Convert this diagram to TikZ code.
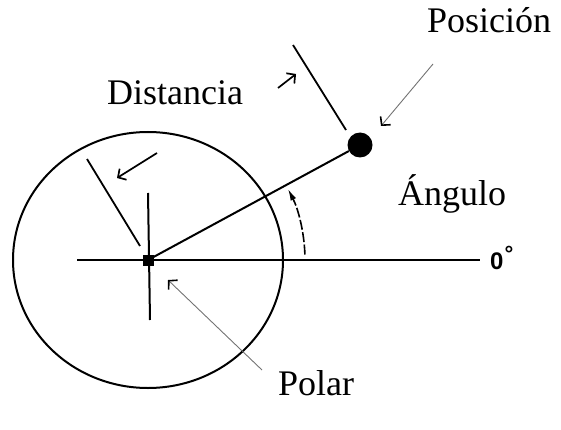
\documentclass[tikz,border=0pt]{standalone}
\usepackage{fontspec}
\setmainfont{Liberation Serif}
\setsansfont{Liberation Sans}
\usetikzlibrary{arrows.meta}

\begin{document}
\begin{tikzpicture}[
x=1pt,y=-1pt,
ln/.style={line width=2pt},
ext/.style={line width=1.8pt},
lbl/.style={font=\fontsize{36}{40}\selectfont,inner sep=0pt,anchor=base west},
tck/.style={line width=1.7pt,-{Straight Barb[length=6pt,width=13pt]}},
ptr/.style={black!55,line width=0.9pt,
  -{Straight Barb[length=6pt,width=13pt,black,line width=1.6pt]}},
arcarr/.style={line width=1.6pt,dash pattern=on 10pt off 2.5pt,
  -{Latex[length=12pt,width=6pt]}}
]
\useasboundingbox (0,0) rectangle (561,430);
\draw[ln] (148,260) ellipse [x radius=135,y radius=128];

\node[fill,minimum size=11pt,inner sep=0pt] (pole) at (148,260) {};
\node[circle,fill,minimum size=25pt,inner sep=0pt] (pos) at (360,145) {};
\coordinate (west) at (77,260);
\coordinate (zero) at (480,260);
\coordinate (up)   at (148,193);
\coordinate (down) at (150,320);

\draw[ln] (west) -- (zero);
\draw[ln] (up) -- (down);
\draw[ln] (pole.center) -- (pos);

\coordinate (e1) at (87,159);
\coordinate (e2) at (140,246);
\coordinate (e3) at (293,45);
\coordinate (e4) at (346,130);
\draw[ext] (e1) -- (e2);
\draw[ext] (e3) -- (e4);

\coordinate (d1) at (157,153);
\coordinate (d2) at (117,178);
\coordinate (d3) at (278,88);
\coordinate (d4) at (296,74);
\draw[tck] (d1) -- (d2);
\draw[tck] (d3) -- (d4);

\node[lbl] (dist) at (107,105) {Distancia};
\node[lbl] (posl) at (427,33)  {Posición};
\node[lbl] (ang)  at (398,205) {Ángulo};
\node[lbl] (pol)  at (278,395) {Polar};
\node[inner sep=0pt,anchor=base west,
  font=\sffamily\bfseries\fontsize{24}{24}\selectfont] (deg) at (490,269)
  {0\hspace{1pt}\raisebox{0.3em}{\fontsize{22}{22}\selectfont°}};

\coordinate (q1) at (433,64);
\coordinate (q2) at (381,126);
\coordinate (r1) at (262,370);
\coordinate (r2) at (168,280);
\draw[ptr] (q1) -- (q2);
\draw[ptr] (r1) -- (r2);

\draw[arcarr] (pole.center) ++(-2:157) coordinate (a0)
  arc[start angle=-2,end angle=-27,radius=157];
\end{tikzpicture}
\end{document}
